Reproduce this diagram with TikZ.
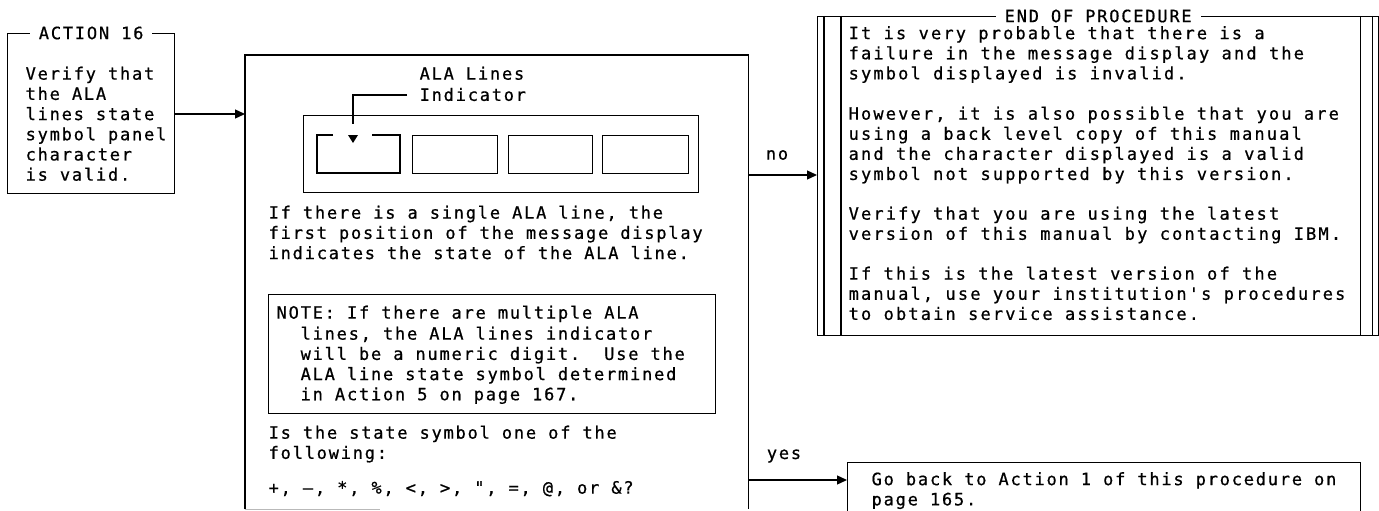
\documentclass[tikz,border=0pt]{standalone}
\usepackage{fontspec}
\newfontfamily\mono[LetterSpace=10.5,FakeBold=0.7]{DejaVu Sans Mono}
\newfontfamily\monowide[LetterSpace=12.6,FakeBold=0.7]{DejaVu Sans Mono}
\usetikzlibrary{arrows.meta}
\begin{document}
\begin{tikzpicture}[x=1pt,y=-1pt,
  line width=1.3pt,
  box/.style={draw, rectangle, anchor=north west, inner sep=0pt},
  txt/.style={anchor=north west, inner sep=0pt, align=left, font=\mono\fontsize{17pt}{20.2pt}\selectfont},
  txtw/.style={txt, font=\monowide\fontsize{17pt}{20.1pt}\selectfont},
  lbl/.style={inner sep=0pt, font=\mono\fontsize{17pt}{20.2pt}\selectfont},
  ttl/.style={fill=white, inner xsep=9pt, inner ysep=2pt, font=\mono\fontsize{17pt}{20.2pt}\selectfont},
  arr/.style={-{Triangle[length=10pt,width=9pt]}},
]
\useasboundingbox (0,0) rectangle (1379,511);
\clip (0,0) rectangle (1379,511);

% ---------- left action box
\node[box, minimum width=167pt, minimum height=160pt] (lbox) at (7,33) {};
\node[ttl] (lboxt) at (lbox.north) {ACTION 16};
\node[txt] (ltext) at (25,65) {\rule{0pt}{14pt}Verify that\\the ALA\\lines state\\symbol panel\\character\\is valid.};

% ---------- central box
\node[box, draw=none, minimum width=502pt, minimum height=453pt] (cbox) at (245,55) {};
\draw (cbox.south west) -- (cbox.north west) -- (cbox.north east) -- (cbox.south east);
\draw[gray!55, line width=1pt] (cbox.south west) -- ++(135,0);

\coordinate (ay) at (0,114);
\draw[arr] (lbox.east |- ay) -- (cbox.west |- ay);

% indicator label and leader
\node[txt] (alalbl) at (419,65) {\rule{0pt}{14pt}ALA Lines\\[1pt]Indicator};
\coordinate (ldr) at (407,95);
\coordinate (ldrc) at (353,95);
\coordinate (ldrend) at (353,124);
\draw (ldr) -- (ldrc) -- (ldrend);
\fill (348,135) -- (358,135) -- (353,143) -- cycle;

% message display panel
\node[box, minimum width=395pt, minimum height=77pt] (panel) at (303,115) {};
\draw (333,135) -- (317,135) -- (317,173) -- (400,173) -- (400,135) -- (372,135);
\node[box, minimum width=85pt, minimum height=38pt] (pos2) at (412,135) {};
\node[box, minimum width=84pt, minimum height=38pt] (pos3) at (508,135) {};
\node[box, minimum width=86pt, minimum height=38pt] (pos4) at (602,135) {};

\node[txt] (single) at (268,204) {\rule{0pt}{14pt}If there is a single ALA line, the\\first position of the message display\\indicates the state of the ALA line.};

% note
\node[box, minimum width=447pt, minimum height=119pt] (note) at (268,294) {};
\node[txt] (note1) at (276,304) {\rule{0pt}{14pt}NOTE: If there are multiple ALA};
\node[txt] (note2) at (300,325) {\rule{0pt}{14pt}lines, the ALA lines indicator\\will be a numeric digit.\ \ Use the\\ALA line state symbol determined\\in Action 5 on page 167.};

\node[txt] (isthe) at (268,424) {\rule{0pt}{14pt}Is the state symbol one of the\\following:};
\node[txt] (symbols) at (268,479) {\rule{0pt}{14pt}+, –, *, \%, <, >, ", =, @, or \&?};

% ---------- end of procedure box
\node[box, minimum width=561pt, minimum height=319pt] (endbox) at (817,16) {};
\draw ([xshift=7pt]endbox.north west) -- ([xshift=7pt]endbox.south west);
\draw ([xshift=24pt]endbox.north west) -- ([xshift=24pt]endbox.south west);
\draw ([xshift=-7pt]endbox.north east) -- ([xshift=-7pt]endbox.south east);
\draw ([xshift=-19pt]endbox.north east) -- ([xshift=-19pt]endbox.south east);
\node[ttl] (endt) at (endbox.north) {END OF PROCEDURE};

\node[txtw] (e1) at (848,24.5) {\rule{0pt}{14pt}It is very probable that there is a\\failure in the message display and the\\symbol displayed is invalid.};
\node[txtw] (e2) at (848,105) {\rule{0pt}{14pt}However, it is also possible that you are\\using a back level copy of this manual\\and the character displayed is a valid\\symbol not supported by this version.};
\node[txtw] (e3) at (848,205) {\rule{0pt}{14pt}Verify that you are using the latest\\version of this manual by contacting IBM.};
\node[txtw] (e4) at (848,265) {\rule{0pt}{14pt}If this is the latest version of the\\manual, use your institution's procedures\\to obtain service assistance.};

\coordinate (noy) at (0,175);
\draw[arr] (cbox.east |- noy) -- (endbox.west |- noy);
\node[lbl] (no) at (777,155) {no};

% ---------- yes box
\node[box, minimum width=513pt, minimum height=80pt] (yesbox) at (847,462) {};
\node[txt] (ytext) at (871,470.5) {\rule{0pt}{14pt}Go back to Action 1 of this procedure on\\page 165.};
\coordinate (yesy) at (0,480);
\draw[arr] (cbox.east |- yesy) -- (yesbox.west |- yesy);
\node[lbl] (yes) at (784,456) {yes};
\end{tikzpicture}
\end{document}
